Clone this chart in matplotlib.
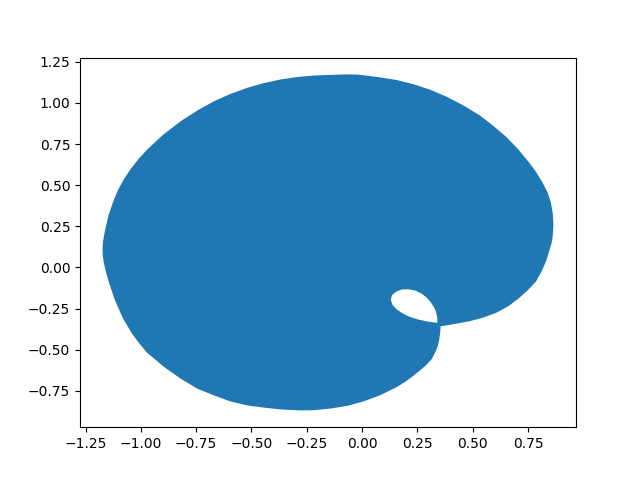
import numpy as np
import matplotlib.pyplot as plt

# outer edge, starting at the notch and going round clockwise
outer_x = [0.355, 0.353, 0.349, 0.342, 0.331, 0.315, 0.290, 0.261, 0.229, 0.193,
           0.156, 0.081, 0.006, -0.069, -0.144, -0.219, -0.279, -0.369, -0.444, -0.518,
           -0.594, -0.669, -0.743, -0.818, -0.893, -0.973, -1.010, -1.043, -1.082, -1.118,
           -1.143, -1.156, -1.162, -1.168, -1.172, -1.173, -1.171, -1.166, -1.160, -1.146,
           -1.126, -1.101, -1.076, -1.046, -1.009, -0.970, -0.897, -0.818, -0.743, -0.669,
           -0.594, -0.518, -0.444, -0.369, -0.294, -0.219, -0.144, -0.076, -0.023, 0.006,
           0.081, 0.156, 0.231, 0.306, 0.381, 0.456, 0.531, 0.590, 0.651, 0.703,
           0.755, 0.786, 0.815, 0.838, 0.853, 0.862, 0.865, 0.862, 0.858, 0.845,
           0.831, 0.811, 0.786, 0.751, 0.710, 0.661, 0.606, 0.545, 0.486, 0.426,
           0.369]
outer_y = [-0.358, -0.395, -0.437, -0.479, -0.515, -0.557, -0.593, -0.627, -0.662, -0.697,
           -0.728, -0.777, -0.815, -0.842, -0.858, -0.868, -0.869, -0.863, -0.852, -0.839,
           -0.815, -0.778, -0.738, -0.678, -0.607, -0.517, -0.457, -0.396, -0.306, -0.196,
           -0.095, -0.035, -0.003, 0.033, 0.075, 0.117, 0.155, 0.196, 0.236, 0.316,
           0.396, 0.477, 0.537, 0.598, 0.661, 0.718, 0.809, 0.890, 0.955, 1.010,
           1.055, 1.092, 1.120, 1.142, 1.157, 1.166, 1.170, 1.173, 1.172, 1.168,
           1.155, 1.139, 1.114, 1.081, 1.038, 0.986, 0.925, 0.864, 0.794, 0.722,
           0.637, 0.581, 0.517, 0.457, 0.396, 0.327, 0.256, 0.196, 0.155, 0.095,
           0.035, -0.025, -0.086, -0.136, -0.186, -0.236, -0.276, -0.306, -0.327, -0.342,
           -0.355]

# small hole, traced the other way round
hole_x = [0.340, 0.340, 0.335, 0.326, 0.310, 0.292, 0.270, 0.243, 0.211, 0.180,
          0.153, 0.135, 0.130, 0.137, 0.157, 0.184, 0.216, 0.252, 0.292, 0.340]
hole_y = [-0.337, -0.304, -0.274, -0.244, -0.211, -0.184, -0.160, -0.142, -0.133, -0.134,
          -0.148, -0.169, -0.196, -0.226, -0.256, -0.280, -0.301, -0.316, -0.328, -0.337]

x = np.concatenate([outer_x, [outer_x[0]], hole_x, [outer_x[0]]])
y = np.concatenate([outer_y, [outer_y[0]], hole_y, [outer_y[0]]])

plt.figure(figsize=(6.4, 4.8))
plt.fill(x, y)
plt.savefig('out.png')
